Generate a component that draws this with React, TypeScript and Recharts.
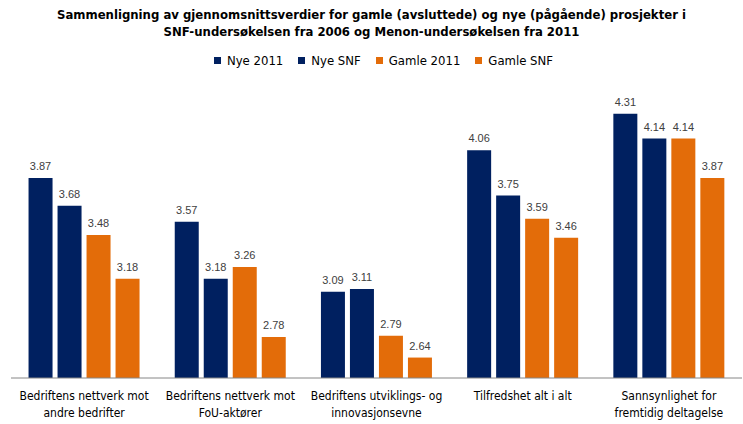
import { BarChart, Bar, XAxis, YAxis, LabelList } from "recharts";

const categories = [
  "Bedriftens nettverk mot\nandre bedrifter",
  "Bedriftens nettverk mot\nFoU-aktører",
  "Bedriftens utviklings- og\ninnovasjonsevne",
  "Tilfredshet alt i alt",
  "Sannsynlighet for\nfremtidig deltagelse",
];
const nye2011 = [3.87, 3.57, 3.09, 4.06, 4.31];
const nyeSNF = [3.68, 3.18, 3.11, 3.75, 4.14];
const gamle2011 = [3.48, 3.26, 2.79, 3.59, 4.14];
const gamleSNF = [3.18, 2.78, 2.64, 3.46, 3.87];

const series = [
  { key: "nye2011", name: "Nye 2011", color: "#002060" },
  { key: "nyeSNF", name: "Nye SNF", color: "#002060" },
  { key: "gamle2011", name: "Gamle 2011", color: "#E36C09" },
  { key: "gamleSNF", name: "Gamle SNF", color: "#E36C09" },
];

const data = categories.map((c, i) => ({
  name: c,
  nye2011: nye2011[i],
  nyeSNF: nyeSNF[i],
  gamle2011: gamle2011[i],
  gamleSNF: gamleSNF[i],
}));

const FONT = "'DejaVu Sans Condensed', 'Liberation Sans', Arial, sans-serif";

const CategoryTick = (props: any) => {
  const { x, y, payload } = props;
  const lines = String(payload.value).split("\n");
  return (
    <text x={x} y={y + 14} textAnchor="middle" fontFamily={FONT} fontSize={12} fill="#000">
      {lines.map((l, i) => (
        <tspan key={i} x={x} dy={i === 0 ? 0 : 17}>
          {l}
        </tspan>
      ))}
    </text>
  );
};

export default function App() {
  return (
    <div style={{ position: "absolute", left: 0, top: 0, width: 743, height: 424, background: "#fff" }}>
      <div
        style={{
          position: "absolute",
          left: 0,
          top: 6,
          width: 743,
          textAlign: "center",
          fontFamily: FONT,
          fontWeight: "bold",
          fontSize: 13,
          lineHeight: "17px",
          color: "#000",
        }}
      >
        Sammenligning av gjennomsnittsverdier for gamle (avsluttede) og nye (pågående) prosjekter i
        <br />
        SNF-undersøkelsen fra 2006 og Menon-undersøkelsen fra 2011
      </div>
      <div
        style={{
          position: "absolute",
          left: 12,
          top: 53,
          width: 743,
          display: "flex",
          justifyContent: "center",
          fontFamily: FONT,
          fontSize: 13,
          color: "#000",
        }}
      >
        {series.map((s, i) => (
          <div key={s.key} style={{ display: "flex", alignItems: "center", marginLeft: i === 0 ? 0 : 15 }}>
            <span style={{ display: "inline-block", width: 7, height: 7, background: s.color, marginRight: 6 }} />
            <span>{s.name}</span>
          </div>
        ))}
      </div>
      <BarChart
        width={743}
        height={424}
        data={data}
        margin={{ top: 86, right: 1, left: 11, bottom: 0 }}
        barCategoryGap="12%"
        barGap={5}
      >
        <XAxis
          dataKey="name"
          height={46}
          tickLine={false}
          axisLine={{ stroke: "#868686" }}
          tick={<CategoryTick />}
          interval={0}
        />
        <YAxis hide domain={[2.5, 4.5]} allowDataOverflow />
        {series.map((s) => (
          <Bar key={s.key} dataKey={s.key} name={s.name} fill={s.color} isAnimationActive={false}>
            <LabelList
              dataKey={s.key}
              position="top"
              offset={8}
              fontSize={11}
              fontFamily="'Liberation Sans', Arial, sans-serif"
              fill="#404040"
              formatter={(v: any) => Number(v).toFixed(2)}
            />
          </Bar>
        ))}
      </BarChart>
    </div>
  );
}
